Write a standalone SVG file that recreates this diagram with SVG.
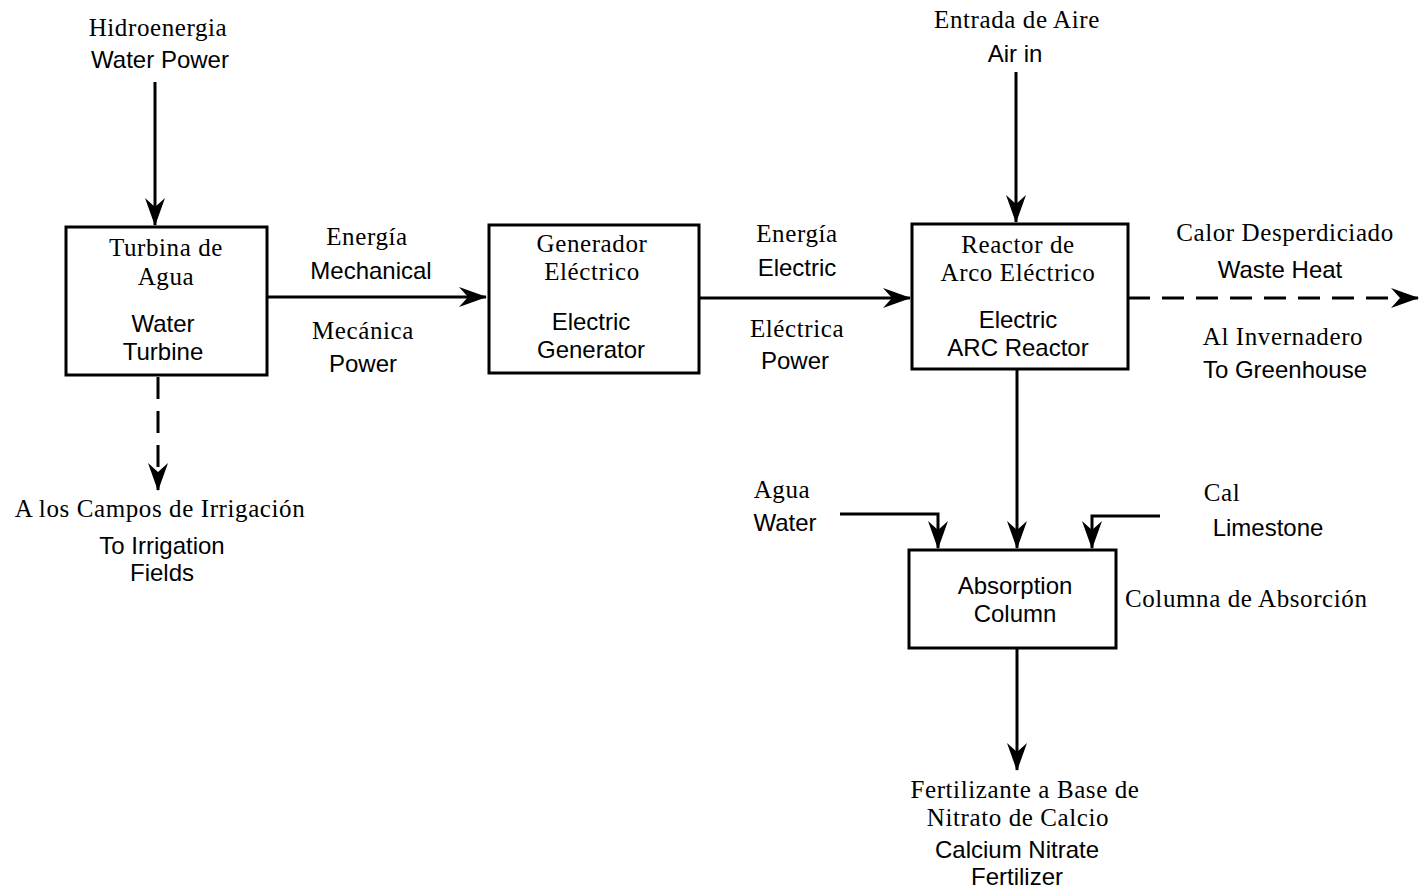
<svg xmlns="http://www.w3.org/2000/svg" width="1426" height="888" viewBox="0 0 1426 888">
<defs>
<marker id="ah" viewBox="0 0 28 20" refX="27" refY="10" markerWidth="28" markerHeight="20" markerUnits="userSpaceOnUse" orient="auto">
<path d="M0,0 L28,10 L0,20 L9,10 Z" fill="#000"/>
</marker>
<style>
.box{fill:#fff;stroke:#000;stroke-width:3}
.ln{fill:none;stroke:#000;stroke-width:3;marker-end:url(#ah)}
.dash{stroke-dasharray:22,12}
.s{font-family:"Liberation Serif","Times New Roman",serif;font-size:25px;letter-spacing:0.6px;fill:#000;text-anchor:middle}
.a{font-family:"Liberation Sans",Arial,sans-serif;font-size:24px;fill:#000;text-anchor:middle}
</style>
</defs>
<rect width="1426" height="888" fill="#fff"/>
<g id="connectors">
<line class="ln" x1="155" y1="82" x2="155" y2="225"/>
<line class="ln dash" x1="158" y1="377" x2="158" y2="490"/>
<line class="ln" x1="267" y1="297" x2="486" y2="297"/>
<line class="ln" x1="700" y1="298" x2="910" y2="298"/>
<line class="ln" x1="1016" y1="72" x2="1016" y2="222"/>
<line class="ln dash" x1="1128" y1="298" x2="1418" y2="298"/>
<line class="ln" x1="1017" y1="369" x2="1017" y2="548"/>
<polyline class="ln" points="840,514 938,514 938,548"/>
<polyline class="ln" points="1160,516 1092,516 1092,548"/>
<line class="ln" x1="1017" y1="648" x2="1017" y2="770"/>
</g>
<g id="labels">
<text class="s" x="158" y="36">Hidroenergia</text>
<text class="a" x="160" y="68">Water Power</text>
<text class="s" x="367" y="245">Energía</text>
<text class="a" x="371" y="279">Mechanical</text>
<text class="s" x="363" y="339">Mecánica</text>
<text class="a" x="363" y="372">Power</text>
<text class="s" x="797" y="242">Energía</text>
<text class="a" x="797" y="276">Electric</text>
<text class="s" x="797" y="337">Eléctrica</text>
<text class="a" x="795" y="369">Power</text>
<text class="s" x="1017" y="28">Entrada de Aire</text>
<text class="a" x="1015" y="62">Air in</text>
<text class="s" x="1285" y="241">Calor Desperdiciado</text>
<text class="a" x="1280" y="278">Waste Heat</text>
<text class="s" x="1283" y="345">Al Invernadero</text>
<text class="a" x="1285" y="378">To Greenhouse</text>
<text class="s" x="160" y="517">A los Campos de Irrigación</text>
<text class="a" x="162" y="554">To Irrigation</text>
<text class="a" x="162" y="581">Fields</text>
<text class="s" x="782" y="498">Agua</text>
<text class="a" x="785" y="531">Water</text>
<text class="s" x="1222" y="501">Cal</text>
<text class="a" x="1268" y="536">Limestone</text>
<text class="s" x="1125" y="607" style="text-anchor:start">Columna de Absorción</text>
<text class="s" x="1025" y="798">Fertilizante a Base de</text>
<text class="s" x="1018" y="826">Nitrato de Calcio</text>
<text class="a" x="1017" y="858">Calcium Nitrate</text>
<text class="a" x="1017" y="885">Fertilizer</text>
</g>
<g id="turbine">
<rect class="box" x="66" y="227" width="201" height="148"/>
<text class="s" x="166" y="256">Turbina de</text>
<text class="s" x="166" y="285">Agua</text>
<text class="a" x="163" y="332">Water</text>
<text class="a" x="163" y="360">Turbine</text>
</g>
<g id="generator">
<rect class="box" x="489" y="225" width="210" height="148"/>
<text class="s" x="592" y="252">Generador</text>
<text class="s" x="592" y="280">Eléctrico</text>
<text class="a" x="591" y="330">Electric</text>
<text class="a" x="591" y="358">Generator</text>
</g>
<g id="reactor">
<rect class="box" x="912" y="224" width="216" height="145"/>
<text class="s" x="1018" y="253">Reactor de</text>
<text class="s" x="1018" y="281">Arco Eléctrico</text>
<text class="a" x="1018" y="328">Electric</text>
<text class="a" x="1018" y="356">ARC Reactor</text>
</g>
<g id="absorption">
<rect class="box" x="909" y="550" width="207" height="98"/>
<text class="a" x="1015" y="594">Absorption</text>
<text class="a" x="1015" y="622">Column</text>
</g>
</svg>
